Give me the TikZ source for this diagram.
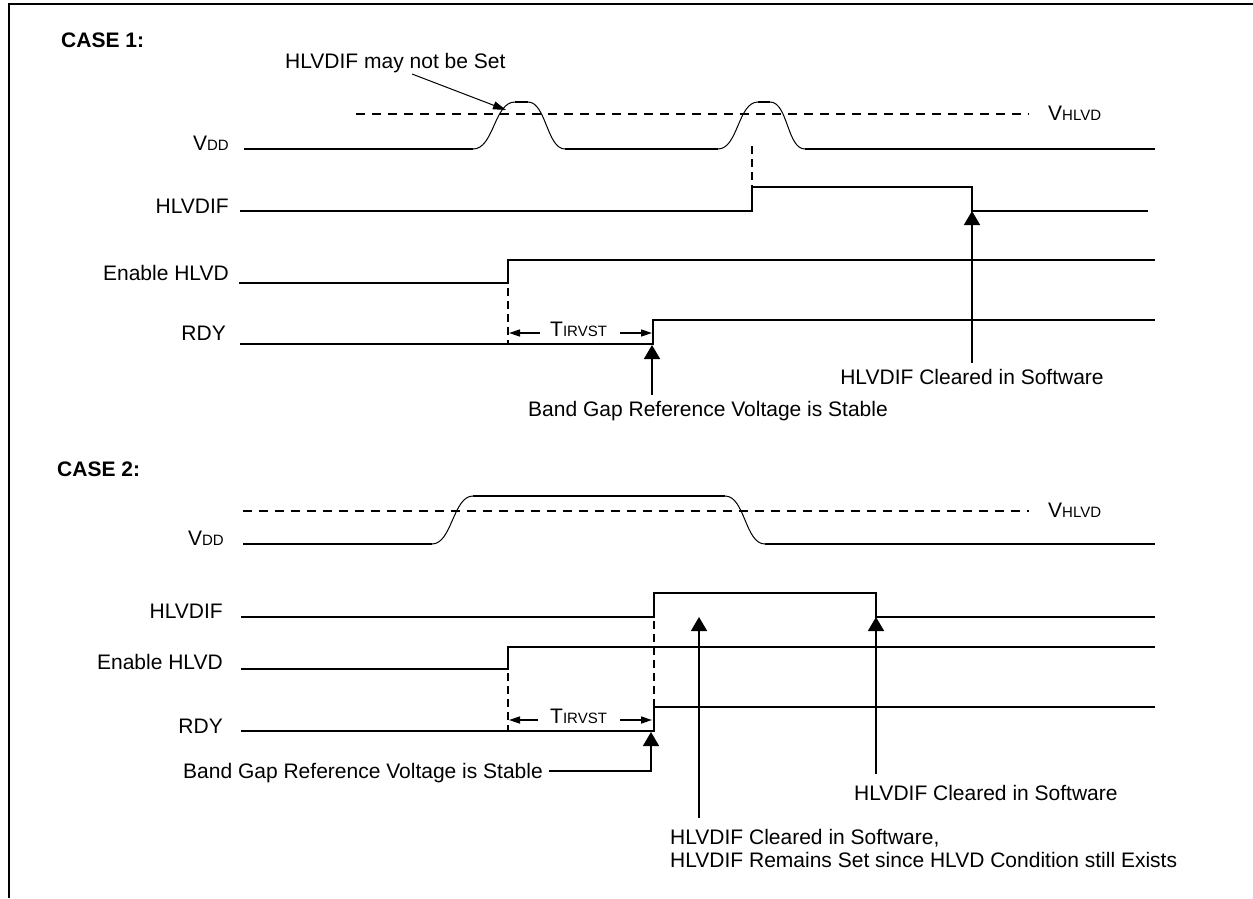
\documentclass[tikz,border=0pt]{standalone}
\usepackage{fontspec}
\setmainfont{Liberation Sans}
\usetikzlibrary{arrows.meta}
\newcommand\mysc[1]{{\fontsize{15}{18}\selectfont #1}}
\begin{document}
\begin{tikzpicture}[x=1pt,y=-1pt,
  sig/.style={line width=1.6pt, line join=miter},
  edg/.style={line width=1pt},
  thr/.style={line width=1.6pt, dash pattern=on 9pt off 7pt},
  vdash/.style={line width=1.6pt, dash pattern=on 8pt off 5pt},
  lbl/.style={font=\fontsize{21}{25}\selectfont, inner sep=0pt},
  hdr/.style={font=\fontsize{21}{25}\selectfont\bfseries, inner sep=0pt},
  bigarrow/.style={line width=1.6pt, -{Triangle[width=16pt,length=14pt]}},
  tarrow/.style={line width=1.6pt, -{Triangle[width=7pt,length=11pt]}},
  notearrow/.style={line width=1pt, -{Triangle[width=8pt,length=13pt]}},
]
\useasboundingbox (0,0) rectangle (1253,898);
% frame
\draw[line width=2pt] (9,898) -- (9,4) -- (1253,4);

%%%%%%%%%%%%%%%% CASE 1
\node[hdr, anchor=base west] (case1) at (61,47) {CASE 1:};
\node[lbl, anchor=base west] (note1) at (285,68) {HLVDIF may not be Set};
\coordinate (note1tail) at (412,74);
\coordinate (note1tip) at (506,110);
\draw[notearrow] (note1tail) -- (note1tip);

% threshold
\draw[thr] (356,114) -- (1029,114);
\node[lbl, anchor=base west] (vh1) at (1048,120) {V\mysc{HLVD}};

% VDD
\node[lbl, anchor=base east] (vdd1) at (229,150) {V\mysc{DD}};
\draw[sig] (244,149) -- (473,149);
\draw[edg] (473,149) .. controls (494,149) and (494,102) .. (515,102);
\draw[sig] (515,102) -- (528,102);
\draw[edg] (528,102) .. controls (546,102) and (547,149) .. (565,149);
\draw[sig] (565,149) -- (718,149);
\draw[edg] (718,149) .. controls (738,149) and (738,102) .. (758,102);
\draw[sig] (758,102) -- (770,102);
\draw[edg] (770,102) .. controls (788,102) and (787,149) .. (805,149);
\draw[sig] (805,149) -- (1155,149);
\draw[vdash] (752,146) -- (752,187);

% HLVDIF
\node[lbl, anchor=base east] (hif1) at (229,213) {HLVDIF};
\draw[sig] (240,211) -- (752,211) -- (752,187) -- (972,187) -- (972,211) -- (1148,211);

% Enable HLVD
\node[lbl, anchor=base east] (en1) at (229,280) {Enable HLVD};
\draw[sig] (239,283) -- (508,283) -- (508,260) -- (1155,260);
\draw[vdash] (508,288) -- (508,343);

% RDY
\node[lbl, anchor=base east] (rdy1) at (226,340) {RDY};
\draw[sig] (240,344) -- (653,344) -- (653,320) -- (1155,320);

% TIRVST
\node[lbl, anchor=base west] (t1) at (550,336) {T\mysc{IRVST}};
\draw[tarrow] (540,333) -- (509,333);
\draw[tarrow] (620,333) -- (652,333);

% annotations
\node[lbl, anchor=base] (bg1) at (708,416) {Band Gap Reference Voltage is Stable};
\coordinate (bg1tail) at (652,395);
\coordinate (bg1tip) at (652,345);
\draw[bigarrow] (bg1tail) -- (bg1tip);

\node[lbl, anchor=base] (clr1) at (972,384) {HLVDIF Cleared in Software};
\coordinate (clr1tail) at (972,363);
\coordinate (clr1tip) at (972,211);
\draw[bigarrow] (clr1tail) -- (clr1tip);

%%%%%%%%%%%%%%%% CASE 2
\node[hdr, anchor=base west] (case2) at (57,476) {CASE 2:};

\draw[thr] (243,511) -- (1029,511);
\node[lbl, anchor=base west] (vh2) at (1048,517) {V\mysc{HLVD}};

% VDD
\node[lbl, anchor=base east] (vdd2) at (224,545) {V\mysc{DD}};
\draw[sig] (243,544) -- (432,544);
\draw[edg] (432,544) .. controls (452,544) and (453,496) .. (473,496);
\draw[sig] (473,496) -- (725,496);
\draw[edg] (725,496) .. controls (745,496) and (745,544) .. (765,544);
\draw[sig] (765,544) -- (1155,544);

% HLVDIF
\node[lbl, anchor=base east] (hif2) at (223,618) {HLVDIF};
\draw[sig] (241,617) -- (654,617) -- (654,593) -- (876,593) -- (876,617) -- (1155,617);

% Enable HLVD
\node[lbl, anchor=base east] (en2) at (223,669) {Enable HLVD};
\draw[sig] (241,669) -- (508,669) -- (508,647) -- (1155,647);

% RDY
\node[lbl, anchor=base east] (rdy2) at (223,733) {RDY};
\draw[sig] (241,731) -- (654,731) -- (654,707) -- (1155,707);

\draw[vdash] (508,673) -- (508,731);
\draw[vdash] (654,621) -- (654,707);

% TIRVST
\node[lbl, anchor=base west] (t2) at (550,723) {T\mysc{IRVST}};
\draw[tarrow] (538,720) -- (509,720);
\draw[tarrow] (620,720) -- (652,720);

% annotations
\node[lbl, anchor=base west] (bg2) at (183,778) {Band Gap Reference Voltage is Stable};
\coordinate (bg2tip) at (651,732);
\draw[bigarrow] (bg2.east |- 0,771) ++(6,0) -- (651,771) -- (bg2tip);

\node[lbl, anchor=base west] (clr2) at (854,800) {HLVDIF Cleared in Software};
\coordinate (clr2tail) at (876,774);
\coordinate (clr2tip) at (876,617);
\draw[bigarrow] (clr2tail) -- (clr2tip);

\node[lbl, anchor=base west] (clr3a) at (670,844) {HLVDIF Cleared in Software,};
\node[lbl, anchor=base west] (clr3b) at (670,867) {HLVDIF Remains Set since HLVD Condition still Exists};
\coordinate (clr3tail) at (699,818);
\coordinate (clr3tip) at (699,617);
\draw[bigarrow] (clr3tail) -- (clr3tip);
\end{tikzpicture}
\end{document}
